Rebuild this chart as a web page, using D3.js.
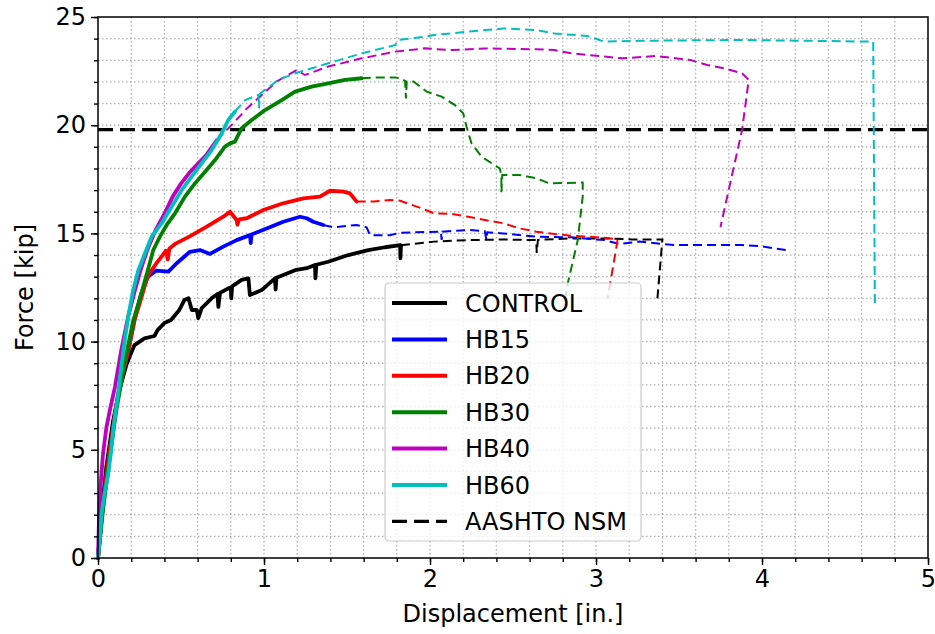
<!DOCTYPE html>
<html>
<head>
<meta charset="utf-8">
<script src="https://cdn.jsdelivr.net/npm/d3@7"></script>
<style>
    html, body { margin: 0; padding: 0; background: #fff; }
    svg { display: block; font-family: "DejaVu Sans", sans-serif; }
</style>
</head>
<body>
<svg id="chart" width="935" height="634"></svg>
<script>

// Data (displacement [in.], force [kip])
///

const seriesNames = ["CONTROL", "HB15", "HB20", "HB30", "HB40", "HB60"];
const aashtoLabel = "AASHTO NSM";
const aashtoForce = 19.8;

const xTicks = [0, 1, 2, 3, 4, 5];
const yTicks = [0, 5, 10, 15, 20, 25];

const controlSolid = [[0,0],[0.02,2],[0.05,4.2],[0.09,6.3],[0.13,7.8],[0.17,8.9],[0.19,9.3],[0.22,9.84],[0.28,10.15],[0.34,10.26],[0.36,10.54],[0.40,10.86],[0.44,11.0],[0.49,11.46],[0.52,11.92],[0.545,12.0],[0.565,11.46],[0.595,11.46],[0.604,11.08],[0.624,11.54],[0.684,12.0],[0.72,12.2],[0.725,11.6],[0.735,12.25],[0.785,12.46],[0.80,12.5],[0.803,12.0],[0.808,12.55],[0.865,12.85],[0.906,12.92],[0.915,12.15],[0.986,12.38],[1.066,12.92],[1.07,12.4],[1.075,12.95],[1.187,13.3],[1.257,13.39],[1.307,13.54],[1.31,12.92],[1.315,13.55],[1.387,13.69],[1.508,14.0],[1.628,14.23],[1.729,14.36],[1.82,14.46],[1.822,13.85],[1.825,14.45]];
const controlDashed = [[1.825,14.45],[2.025,14.62],[2.23,14.69],[2.44,14.72],[2.64,14.69],[2.643,14.1],[2.65,14.7],[2.85,14.77],[3.05,14.77],[3.22,14.72],[3.40,14.72],[3.37,12.0]];

const hb15Solid = [[0,0],[0.03,2.5],[0.07,5],[0.12,7.5],[0.18,9.5],[0.22,11.0],[0.26,12.2],[0.30,13.0],[0.35,13.28],[0.424,13.23],[0.474,13.62],[0.554,14.15],[0.614,14.23],[0.675,14.05],[0.755,14.39],[0.835,14.69],[0.916,14.92],[0.92,14.55],[0.925,14.95],[1.016,15.23],[1.116,15.54],[1.217,15.77],[1.257,15.70],[1.297,15.54],[1.357,15.39]];
const hb15Dashed = [[1.357,15.39],[1.417,15.28],[1.558,15.39],[1.618,15.28],[1.639,14.92],[1.759,14.92],[1.82,15.03],[2.066,15.08],[2.07,14.7],[2.075,15.08],[2.23,15.16],[2.33,15.1],[2.34,14.7],[2.345,15.05],[2.44,15.0],[2.64,14.85],[2.85,14.82],[3.05,14.69],[3.14,14.51],[3.26,14.62],[3.47,14.46],[3.88,14.46],[3.98,14.42],[4.145,14.23]];

const hb20Solid = [[0,0],[0.03,2.5],[0.07,5],[0.12,7.5],[0.18,9.5],[0.22,11.0],[0.26,12.0],[0.29,12.8],[0.31,13.15],[0.35,13.6],[0.41,14.2],[0.42,13.8],[0.43,14.3],[0.47,14.54],[0.55,14.85],[0.655,15.31],[0.755,15.77],[0.795,16.0],[0.835,15.62],[0.84,15.4],[0.85,15.65],[0.896,15.70],[0.996,16.08],[1.116,16.39],[1.237,16.62],[1.337,16.70],[1.398,16.97],[1.478,16.93],[1.518,16.85],[1.558,16.47]];
const hb20Dashed = [[1.558,16.47],[1.659,16.47],[1.759,16.54],[1.82,16.51],[1.92,16.24],[2.025,15.93],[2.13,15.90],[2.23,15.77],[2.33,15.62],[2.44,15.47],[2.54,15.23],[2.64,15.08],[2.75,14.97],[2.85,14.89],[2.95,14.85],[3.05,14.80],[3.13,14.72],[3.12,14.23],[3.07,12.0]];

const hb30Solid = [[0,0],[0.03,2.2],[0.07,4.6],[0.11,6.8],[0.16,9],[0.21,10.9],[0.26,12.2],[0.30,13.3],[0.333,14.23],[0.373,14.85],[0.414,15.39],[0.464,15.93],[0.524,16.70],[0.584,17.31],[0.645,17.85],[0.705,18.39],[0.765,19.01],[0.795,19.16],[0.825,19.24],[0.845,19.55],[0.866,19.86],[0.926,20.24],[1.006,20.70],[1.107,21.16],[1.187,21.55],[1.287,21.78],[1.387,21.93],[1.488,22.09],[1.589,22.17]];
const hb30Dashed = [[1.589,22.17],[1.689,22.21],[1.789,22.21],[1.82,22.17],[1.85,22.05],[1.855,21.24],[1.86,22.02],[1.90,22.02],[1.98,21.55],[2.07,21.32],[2.15,20.93],[2.20,20.55],[2.22,19.93],[2.25,19.16],[2.31,18.55],[2.42,18.0],[2.43,17.70],[2.43,16.9],[2.435,17.7],[2.54,17.70],[2.64,17.55],[2.72,17.31],[2.92,17.35],[2.92,16.70],[2.89,14.69],[2.83,12.69],[2.81,11.8]];

const hb40Solid = [[0,0],[0.005,1.5],[0.012,3.0],[0.03,4.8],[0.05,6.0],[0.072,6.84],[0.102,7.9],[0.14,9.6],[0.18,11.1],[0.22,12.3],[0.26,13.4],[0.30,14.3],[0.35,15.2],[0.40,15.9],[0.45,16.7],[0.50,17.3],[0.55,17.8],[0.60,18.2],[0.65,18.6],[0.715,19.3]];
const hb40Dashed = [[0.715,19.3],[0.765,19.7],[0.815,20.09],[0.90,20.8],[0.976,21.32],[1.076,22.02],[1.197,22.55],[1.247,22.32],[1.387,22.71],[1.589,23.09],[1.789,23.40],[1.97,23.55],[2.13,23.47],[2.33,23.55],[2.64,23.51],[2.75,23.47],[2.85,23.32],[3.05,23.17],[3.16,23.09],[3.36,23.20],[3.57,23.01],[3.67,22.78],[3.77,22.63],[3.88,22.40],[3.92,22.09],[3.88,19.78],[3.75,15.3]];

const hb60Solid = [[0,0],[0.01,0.8],[0.022,2.07],[0.04,3.0],[0.062,3.91],[0.08,5.0],[0.092,5.91],[0.105,6.7],[0.12,7.5],[0.14,8.8],[0.16,10.0],[0.183,11.2],[0.21,12.3],[0.243,13.3],[0.283,14.08],[0.323,14.85],[0.384,15.47],[0.444,16.24],[0.504,17.0],[0.564,17.62],[0.624,18.24],[0.685,18.85],[0.745,19.62],[0.785,20.24],[0.825,20.63]];
const hb60Dashed = [[0.825,20.63],[0.886,21.16],[0.966,21.40],[0.97,20.78],[0.975,21.45],[1.086,22.09],[1.187,22.40],[1.387,22.86],[1.589,23.32],[1.789,23.70],[1.81,23.94],[1.97,24.09],[2.025,24.17],[2.23,24.32],[2.44,24.47],[2.64,24.40],[2.75,24.24],[2.95,24.12],[3.05,23.86],[3.26,23.90],[3.88,23.94],[4.67,23.86],[4.68,11.6]];

document.addEventListener("DOMContentLoaded", function() {

    // Display settings
    const width = 935, height = 634;
    const margin = {top: 17, right: 7, bottom: 76, left: 98};
    const graphWidth = width - margin.left - margin.right;
    const graphHeight = height - margin.top - margin.bottom;
    const colors = ["#000000", "#0000ff", "#ff0000", "#008000", "#bf00bf", "#00bfbf"];
    const fontSize = "24px";

    const solids = [controlSolid, hb15Solid, hb20Solid, hb30Solid, hb40Solid, hb60Solid];
    const dashes = [controlDashed, hb15Dashed, hb20Dashed, hb30Dashed, hb40Dashed, hb60Dashed];

    ////////// Scales //////////

    const x = d3.scaleLinear().domain([0, 5]).range([0, graphWidth]);
    const y = d3.scaleLinear().domain([0, 25]).range([graphHeight, 0]);
    const line = d3.line()
        .x(d => x(d[0]))
        .y(d => y(d[1]));

    const svg = d3.select("#chart");
    svg.append("rect").attr("width", width).attr("height", height).attr("fill", "#fff");

    const g = svg.append("g")
        .attr("transform", `translate(${margin.left},${margin.top})`);

    ////////// Grid //////////

    const xMinor = d3.range(0, 5.0001, 0.2);
    const yMinor = d3.range(0, 25.0001, 1);

    g.append("g").selectAll("line")
        .data(xMinor.slice(1, -1))
        .join("line")
        .attr("x1", d => x(d)).attr("x2", d => x(d))
        .attr("y1", 0).attr("y2", graphHeight)
        .attr("stroke", "#b0b0b0")
        .attr("stroke-width", 1.3)
        .attr("stroke-dasharray", "1.5,2.5");

    g.append("g").selectAll("line")
        .data(yMinor.slice(1, -1))
        .join("line")
        .attr("x1", 0).attr("x2", graphWidth)
        .attr("y1", d => y(d)).attr("y2", d => y(d))
        .attr("stroke", "#b0b0b0")
        .attr("stroke-width", 1.3)
        .attr("stroke-dasharray", "1.5,2.5");

    ////////// Curves //////////

    const plot = g.append("g");

    // AASHTO reference line
    plot.append("path")
        .datum([[0, aashtoForce], [5, aashtoForce]])
        .attr("d", line)
        .attr("fill", "none")
        .attr("stroke", "#000")
        .attr("stroke-width", 3.2)
        .attr("stroke-dasharray", "15,7");

    seriesNames.forEach((name, i) => {
        plot.append("path")
            .datum(dashes[i])
            .attr("d", line)
            .attr("fill", "none")
            .attr("stroke", colors[i])
            .attr("stroke-width", 2)
            .attr("stroke-dasharray", "9,5");
    });

    seriesNames.forEach((name, i) => {
        plot.append("path")
            .datum(solids[i])
            .attr("d", line)
            .attr("fill", "none")
            .attr("stroke", colors[i])
            .attr("stroke-width", 3.8)
            .attr("stroke-linejoin", "round")
            .attr("stroke-linecap", "round");
    });

    ////////// Axes //////////

    g.append("g")
        .attr("transform", `translate(0,${graphHeight})`)
        .call(d3.axisBottom(x).tickValues(xTicks).tickFormat(d3.format("d")).tickSize(7).tickPadding(5));
    g.append("g")
        .call(d3.axisLeft(y).tickValues(yTicks).tickFormat(d3.format("d")).tickSize(7).tickPadding(5));

    // minor ticks
    g.append("g")
        .attr("transform", `translate(0,${graphHeight})`)
        .call(d3.axisBottom(x).tickValues(xMinor).tickFormat("").tickSize(4));
    g.append("g")
        .call(d3.axisLeft(y).tickValues(yMinor).tickFormat("").tickSize(4));

    g.selectAll(".domain").remove();
    g.selectAll(".tick line").attr("stroke", "#000").attr("stroke-width", 1.4);
    g.selectAll(".tick text")
        .attr("fill", "#000")
        .style("font-size", fontSize)
        .style("font-family", "DejaVu Sans");

    // frame
    g.append("rect")
        .attr("width", graphWidth).attr("height", graphHeight)
        .attr("fill", "none")
        .attr("stroke", "#000")
        .attr("stroke-width", 1.5);

    // Axis labels
    svg.append("text")
        .attr("x", margin.left + graphWidth / 2)
        .attr("y", 622)
        .attr("text-anchor", "middle")
        .style("font-size", fontSize)
        .text("Displacement [in.]");

    svg.append("text")
        .attr("transform", `translate(33,${margin.top + graphHeight / 2}) rotate(-90)`)
        .attr("text-anchor", "middle")
        .style("font-size", fontSize)
        .text("Force [kip]");

    ////////// Legend //////////

    const legend = svg.append("g").attr("transform", "translate(385,283)");
    legend.append("rect")
        .attr("width", 256).attr("height", 258)
        .attr("rx", 4)
        .attr("fill", "#fff").attr("fill-opacity", 0.8)
        .attr("stroke", "#cccccc").attr("stroke-width", 1.2);

    const legendItems = seriesNames.map((n, i) => ({name: n, color: colors[i], dash: null}))
        .concat([{name: aashtoLabel, color: "#000", dash: "15,7"}]);

    legendItems.forEach((d, i) => {
        const cy = 20 + i * 36.4;
        legend.append("line")
            .attr("x1", 7).attr("x2", 62)
            .attr("y1", cy).attr("y2", cy)
            .attr("stroke", d.color)
            .attr("stroke-width", d.dash ? 3.2 : 4)
            .attr("stroke-dasharray", d.dash);
        legend.append("text")
            .attr("x", 80).attr("y", cy)
            .attr("dy", "0.36em")
            .style("font-size", fontSize)
            .text(d.name);
    });
});
</script>
</body>
</html>
